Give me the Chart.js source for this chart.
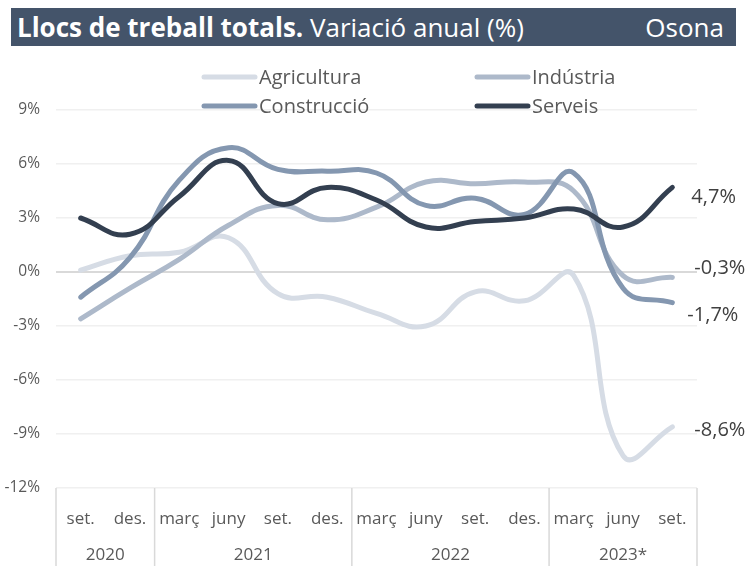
<!DOCTYPE html>
<html>
<head>
<meta charset="utf-8">
<script src="https://cdn.jsdelivr.net/npm/chart.js@4.4.1/dist/chart.umd.min.js"></script>
<style>
    body { margin: 0; background: #fff; }
    #wrap { position: relative; width: 752px; height: 566px; }
    #header {
        position: absolute; left: 11px; top: 8px; width: 725px; height: 38px;
        background: #44546a; color: #fff; font-family: "Open Sans", sans-serif;
        font-size: 26px; line-height: 38px; box-sizing: border-box; padding: 0 8px 0 6px;
        white-space: nowrap;
    }
    #header b { letter-spacing: 0px; }
    #header .sub { letter-spacing: 0px; }
    #header .right { position: absolute; right: 12px; top: 0; }
    canvas { position: absolute; left: 0; top: 0; }
</style>
</head>
<body>
<div id="wrap">
    <canvas id="chart" width="752" height="566"></canvas>
    <div id="header"><b>Llocs de treball totals.</b> <span class="sub">Variació anual (%)</span><span class="right">Osona</span></div>
</div>
<script>
// dades
const months = ['set.', 'des.', 'març', 'juny', 'set.', 'des.', 'març', 'juny', 'set.', 'des.', 'març', 'juny', 'set.'];
const years = ['2020', '2021', '2022', '2023*'];
const yearSpans = [2, 4, 4, 3];

const agricultura = [0.1, 0.9, 1.1, 1.9, -1.2, -1.4, -2.3, -3.0, -1.1, -1.6, -0.2, -10.2, -8.6];
const industria   = [-2.6, -0.9, 0.7, 2.6, 3.7, 2.9, 3.6, 5.0, 4.9, 5.0, 4.5, -0.2, -0.3];
const construccio = [-1.4, 0.8, 5.1, 6.9, 5.7, 5.6, 5.5, 3.7, 4.1, 3.2, 5.5, -0.9, -1.7];
const serveis     = [3.0, 2.1, 4.2, 6.2, 3.8, 4.7, 4.0, 2.5, 2.8, 3.0, 3.5, 2.5, 4.7];

const yTicks = [-12, -9, -6, -3, 0, 3, 6, 9];

const colors = ['#d6dce5', '#adb9ca', '#8497b0', '#333f50'];
const textColor = '#595959';
const font = '"Open Sans", sans-serif';

function fmt(v) {
    return v.toFixed(1).replace('.', ',') + '%';
}

// llegenda a dues columnes
const legendPlugin = {
    id: 'legend2col',
    afterDraw(chart) {
        const ctx = chart.ctx;
        const pos = [[202, 77], [475, 77], [202, 106], [475, 106]];
        chart.data.datasets.forEach((ds, i) => {
            const [x, y] = pos[i];
            ctx.save();
            ctx.strokeStyle = ds.borderColor;
            ctx.lineWidth = 5;
            ctx.lineCap = 'round';
            ctx.beginPath();
            ctx.moveTo(x + 2, y);
            ctx.lineTo(x + 53, y);
            ctx.stroke();
            ctx.fillStyle = textColor;
            ctx.font = '20px ' + font;
            ctx.textBaseline = 'middle';
            ctx.fillText(ds.label, x + 57, y + 1);
            ctx.restore();
        });
    }
};

// etiquetes de l'últim valor
const lastLabels = {
    id: 'lastLabels',
    afterDatasetsDraw(chart) {
        const ctx = chart.ctx;
        const offs = [[22, 3], [22, -9], [15, 13], [19, 10]];
        ctx.save();
        ctx.font = '20px ' + font;
        ctx.fillStyle = '#404040';
        ctx.textBaseline = 'middle';
        chart.data.datasets.forEach((ds, i) => {
            const meta = chart.getDatasetMeta(i);
            const pt = meta.data[meta.data.length - 1];
            const v = ds.data[ds.data.length - 1];
            ctx.fillText(fmt(v), pt.x + offs[i][0], pt.y + offs[i][1]);
        });
        ctx.restore();
    }
};

// separadors i anys a l'eix x
const yearAxis = {
    id: 'yearAxis',
    afterDraw(chart) {
        const ctx = chart.ctx;
        const x = chart.scales.x;
        const area = chart.chartArea;
        const half = (x.getPixelForValue(1) - x.getPixelForValue(0)) / 2;
        ctx.save();
        ctx.strokeStyle = '#d9d9d9';
        ctx.lineWidth = 1.5;
        ctx.fillStyle = textColor;
        ctx.font = '17px ' + font;
        ctx.textAlign = 'center';
        ctx.textBaseline = 'middle';
        let start = 0;
        const edge = (i) => x.getPixelForValue(i) - half;
        yearSpans.forEach((span, k) => {
            const left = edge(start);
            const right = edge(start + span);
            ctx.beginPath();
            ctx.moveTo(left, area.bottom);
            ctx.lineTo(left, chart.height);
            ctx.stroke();
            if (k === yearSpans.length - 1) {
                ctx.beginPath();
                ctx.moveTo(right, area.bottom);
                ctx.lineTo(right, chart.height);
                ctx.stroke();
            }
            ctx.fillText(years[k], (left + right) / 2, 555);
            start += span;
        });
        ctx.restore();
    }
};

const names = ['Agricultura', 'Indústria', 'Construcció', 'Serveis'];
const series = [agricultura, industria, construccio, serveis];

new Chart(document.getElementById('chart'), {
    type: 'line',
    data: {
        labels: months,
        datasets: series.map((d, i) => ({
            label: names[i],
            data: d,
            borderColor: colors[i],
            borderWidth: 5,
            borderCapStyle: 'round',
            pointRadius: 0,
            tension: 0.45,
            fill: false,
            order: 4 - i
        }))
    },
    options: {
        responsive: false,
        animation: false,
        layout: { padding: { top: 110, right: 55, left: 0, bottom: 0 } },
        plugins: {
            legend: { display: false },
            tooltip: { enabled: false }
        },
        scales: {
            x: {
                offset: true,
                grid: { display: false },
                border: { display: false },
                afterFit(scale) { scale.height = 78; },
                ticks: {
                    color: textColor,
                    font: { size: 17, family: font },
                    padding: 13,
                    maxRotation: 0,
                    autoSkip: false
                }
            },
            y: {
                min: -12,
                max: 9,
                afterFit(scale) { scale.width = 56; },
                afterBuildTicks(scale) { scale.ticks = yTicks.map(v => ({ value: v })); },
                border: { display: false },
                grid: {
                    drawTicks: false,
                    color: ctx => ctx.tick.value === 0 ? '#d9d9d9' : '#f0f0f0',
                    lineWidth: ctx => ctx.tick.value === 0 ? 2 : 1.5
                },
                ticks: {
                    color: textColor,
                    font: { size: 15.5, family: font },
                    padding: 16,
                    callback: v => v + '%'
                }
            }
        }
    },
    plugins: [legendPlugin, lastLabels, yearAxis]
});
</script>
</body>
</html>
